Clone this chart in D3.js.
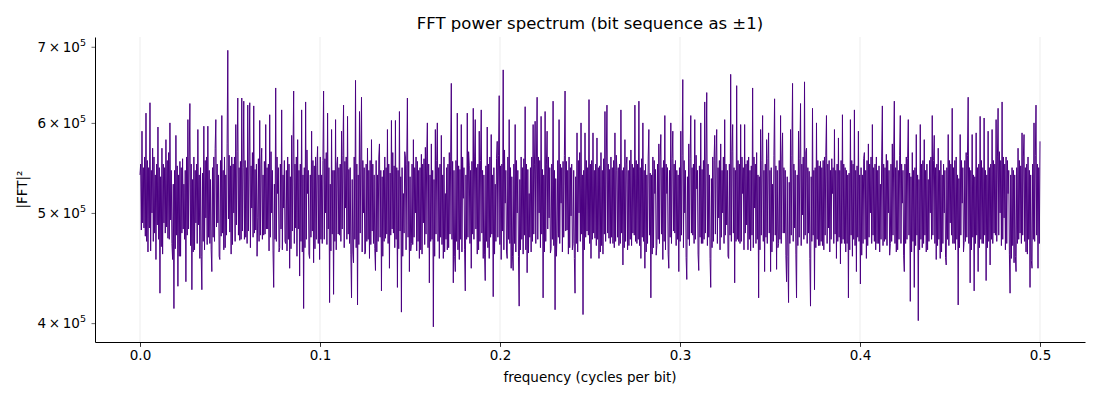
<!DOCTYPE html>
<html>
<head>
<meta charset="utf-8">
<script src="https://cdn.jsdelivr.net/npm/d3@7"></script>
<style>
  body { margin: 0; background: #fff; }
  svg { display: block; font-family: "DejaVu Sans", sans-serif; }
</style>
</head>
<body>
<svg id="chart" width="1100" height="400"></svg>
<script>
// Power values in thousands (frequency 0 .. 0.5 cycles/bit, evenly spaced bins)
const powerK = [
540,552,483,590,490,548,485,560,477,612,472,556,462,548,485,625,463,545,500,570,472,560,480,540,455,552,488,595,474,548,425,538,467,570,460,552,490,548,480,580,486,556,475,565,474,600,493,545,470,455,530,412,545,465,585,478,550,431,540,458,555,458,548,480,558,484,530,474,545,435,560,478,604,484,560,624,468,552,428,535,462,560,464,545,490,552,470,592,488,540,456,548,458,428,542,472,596,464,556,495,560,469,596,476,545,470,535,464,444,548,476,560,472,570,604,486,552,490,540,458,455,556,477,609,480,545,464,560,466,540,478,575,695,494,562,481,550,460,560,469,552,500,560,472,598,488,566,631,478,548,473,555,474,631,482,548,
627,474,556,476,548,470,622,482,560,625,466,550,505,565,476,621,480,546,483,552,458,495,558,472,603,478,552,570,474,540,478,555,479,598,484,548,484,552,463,610,476,566,500,545,463,430,530,474,644,472,560,520,548,462,466,552,484,616,464,540,505,556,472,470,545,463,560,474,552,447,538,465,585,482,560,640,470,552,485,560,458,580,484,545,440,552,472,616,462,540,412,548,466,626,474,568,520,545,460,456,540,476,590,482,556,452,550,465,560,474,550,572,470,540,455,560,474,540,470,556,640,474,558,500,565,469,612,484,548,417,530,463,592,479,545,424,545,472,604,464,552,
560,479,548,478,552,472,590,484,562,622,466,555,505,560,474,608,479,546,470,548,460,421,535,462,452,560,474,654,466,552,415,540,469,614,480,560,632,462,556,500,548,460,462,552,472,570,474,545,456,556,469,580,482,552,470,540,465,445,556,462,540,472,560,575,476,545,427,538,458,545,472,560,475,548,479,592,470,552,447,542,478,603,484,565,480,550,466,603,474,548,430,545,465,614,482,538,409,548,458,520,480,566,560,464,552,631,476,555,444,538,463,470,552,469,580,476,548,500,560,463,555,472,545,456,548,464,563,460,552,490,558,469,571,479,560,600,466,552,434,540,472,575,474,545,397,535,458,592,479,556,
600,472,548,456,552,476,585,469,540,456,560,462,520,474,548,464,552,466,565,479,560,650,474,555,434,545,458,444,556,472,612,464,550,455,546,474,598,462,560,515,548,464,427,540,474,612,476,566,550,470,545,447,555,479,618,474,560,604,484,548,460,552,464,590,472,556,616,480,545,456,540,460,436,550,472,595,466,552,456,560,476,586,479,540,422,548,460,530,472,558,578,476,562,634,469,550,455,552,482,668,464,568,510,545,462,456,560,474,604,470,548,447,538,458,445,552,470,598,462,556,500,545,458,414,535,464,560,474,548,460,558,478,620,464,552,443,546,461,520,476,548,462,560,472,598,479,552,602,470,560,
632,474,560,500,556,466,608,479,546,421,540,462,614,472,552,590,484,560,495,548,461,465,552,474,627,468,545,411,536,458,480,556,476,604,470,552,510,548,462,555,476,562,640,482,555,483,545,460,560,466,548,497,552,464,470,545,456,425,538,470,588,462,556,500,565,472,600,479,540,407,545,464,588,476,556,482,548,478,629,470,552,456,556,474,588,480,545,475,552,468,582,474,548,456,550,462,565,468,545,460,558,479,614,472,560,622,480,552,475,546,470,560,476,548,470,556,466,588,472,562,545,476,548,468,552,470,616,480,545,450,548,466,580,472,552,560,464,545,468,556,474,568,468,552,480,548,478,622,472,556,
470,552,474,627,468,548,456,558,476,600,472,545,447,552,462,540,470,560,592,478,542,421,540,460,560,466,556,520,546,459,468,552,474,575,470,560,586,479,548,455,556,472,609,464,552,520,548,460,447,545,476,600,470,558,590,482,552,480,556,468,545,474,540,444,548,472,590,478,562,655,466,556,500,545,457,437,538,474,575,468,558,609,480,548,478,552,470,604,474,562,525,545,460,445,550,476,600,470,546,470,556,474,626,480,560,638,468,552,476,540,456,430,536,466,560,472,556,585,479,560,592,470,548,495,556,464,575,476,545,500,560,470,604,478,552,488,545,458,456,552,478,662,472,566,598,480,548,434,545,472,
647,474,556,472,552,470,598,472,560,520,548,464,598,480,552,488,556,464,560,474,545,463,550,478,644,466,560,505,552,470,565,474,540,421,538,464,592,478,556,609,472,545,444,552,476,580,470,558,588,480,545,444,548,462,530,472,562,630,478,550,446,545,466,470,556,474,609,470,560,588,480,548,480,545,459,435,538,458,417,532,470,592,478,562,650,472,552,485,545,460,421,540,468,590,476,558,624,468,552,498,560,474,652,478,566,570,470,548,480,544,456,414,538,472,618,478,545,428,548,466,600,474,556,468,550,468,555,472,548,468,556,464,560,478,562,609,470,552,485,556,462,545,474,558,520,548,470,592,479,545,
456,552,472,582,476,545,451,556,470,610,474,552,470,548,462,545,470,540,421,542,464,604,478,556,458,552,474,616,468,545,444,550,476,590,472,540,433,548,459,540,470,558,565,474,545,456,556,468,575,476,552,500,560,470,598,478,548,472,552,464,560,470,545,470,550,462,530,474,560,621,468,552,472,548,474,563,468,556,500,545,459,470,552,472,575,478,560,627,470,548,462,556,464,545,474,562,609,470,552,510,545,459,444,552,470,560,474,558,604,478,542,418,538,462,565,472,545,430,548,468,586,478,540,402,535,464,598,474,552,466,556,470,580,478,545,462,552,464,535,472,556,500,560,474,609,478,556,585,470,548,
455,552,468,570,474,545,456,556,462,540,470,552,500,545,457,450,548,474,586,468,556,490,552,478,618,470,548,470,556,464,560,474,540,415,536,466,586,478,556,510,548,462,473,556,472,565,476,562,632,470,548,434,545,464,586,476,540,427,538,470,588,478,548,444,552,466,608,474,556,470,548,470,606,478,545,436,540,466,590,472,548,450,552,474,592,470,556,480,552,478,604,472,560,618,478,566,500,556,468,626,474,560,495,552,464,560,470,556,520,545,460,425,540,456,548,468,545,452,540,458,444,548,470,570,474,556,480,550,470,588,478,560,586,472,548,462,552,460,560,474,545,430,540,454,447,552,474,600,472,562,622,478,552,447,548,470,578
];
const unitK = 1000;
const freqMax = 0.5;
const xTicks = [0.0, 0.1, 0.2, 0.3, 0.4, 0.5];
const yTicks = [4e5, 5e5, 6e5, 7e5];
const yTickMantissa = ["4", "5", "6", "7"];

(function () {
const data = powerK.map((v, i) => ({ f: i * freqMax / (powerK.length - 1), p: v * unitK }));

const svg = d3.select("#chart");
const mL = 95, mR = 1085, mT = 37, mB = 342;

const x = d3.scaleLinear().domain([-0.025, 0.525]).range([mL, mR]);
const y = d3.scaleLog().domain([3.85e5, 7.14e5]).range([mB, mT]);

// vertical grid
svg.append("g").selectAll("line").data(xTicks).join("line")
  .attr("x1", d => x(d)).attr("x2", d => x(d))
  .attr("y1", mT).attr("y2", mB)
  .attr("stroke", "#b0b0b0").attr("stroke-opacity", 0.3).attr("stroke-width", 0.8);

// line
const line = d3.line().x(d => x(d.f)).y(d => y(d.p));
svg.append("path").datum(data)
  .attr("d", line)
  .attr("fill", "none")
  .attr("stroke", "#4b0082")
  .attr("stroke-width", 1)
  .attr("stroke-linejoin", "round");

// x axis
const xAxis = d3.axisBottom(x).tickValues(xTicks).tickFormat(d3.format(".1f"))
  .tickSize(4.9).tickSizeOuter(0).tickPadding(4);
const gx = svg.append("g").attr("transform", `translate(0,${mB})`).call(xAxis);
gx.select(".domain").attr("stroke", "#000").attr("stroke-width", 1);
gx.selectAll(".tick line").attr("stroke", "#000").attr("stroke-width", 0.8);
gx.selectAll(".tick text").attr("font-size", 13.5).attr("fill", "#000")
  .attr("font-family", "DejaVu Sans, sans-serif");

// y axis
const yAxis = d3.axisLeft(y).tickValues(yTicks).tickFormat("").tickSize(3.5).tickSizeOuter(0);
const gy = svg.append("g").attr("transform", `translate(${mL},0)`).call(yAxis);
gy.select(".domain").attr("stroke", "#000").attr("stroke-width", 1);
gy.selectAll(".tick line").attr("stroke", "#000").attr("stroke-width", 0.6);

const yl = svg.append("g").selectAll("text").data(yTicks).join("text")
  .attr("x", mL - 9).attr("y", d => y(d) + 5)
  .attr("text-anchor", "end")
  .attr("font-size", 13.5).attr("fill", "#000");
yl.append("tspan").text((d, i) => yTickMantissa[i] + "\u2009\u00d7\u200910");
yl.append("tspan").attr("dy", -6).attr("font-size", 9.5).text("5");

// title
svg.append("text").attr("x", (mL + mR) / 2).attr("y", 29)
  .attr("text-anchor", "middle").attr("font-size", 16.5).attr("fill", "#000")
  .text("FFT power spectrum (bit sequence as \u00b11)");

// x label
svg.append("text").attr("x", (mL + mR) / 2).attr("y", 382)
  .attr("text-anchor", "middle").attr("font-size", 13.5).attr("fill", "#000")
  .text("frequency (cycles per bit)");

// y label
svg.append("text").attr("transform", `translate(27,${(mT + mB) / 2}) rotate(-90)`)
  .attr("text-anchor", "middle").attr("font-size", 13.5).attr("fill", "#000")
  .text("|FFT|\u00b2");
})();
</script>
</body>
</html>
